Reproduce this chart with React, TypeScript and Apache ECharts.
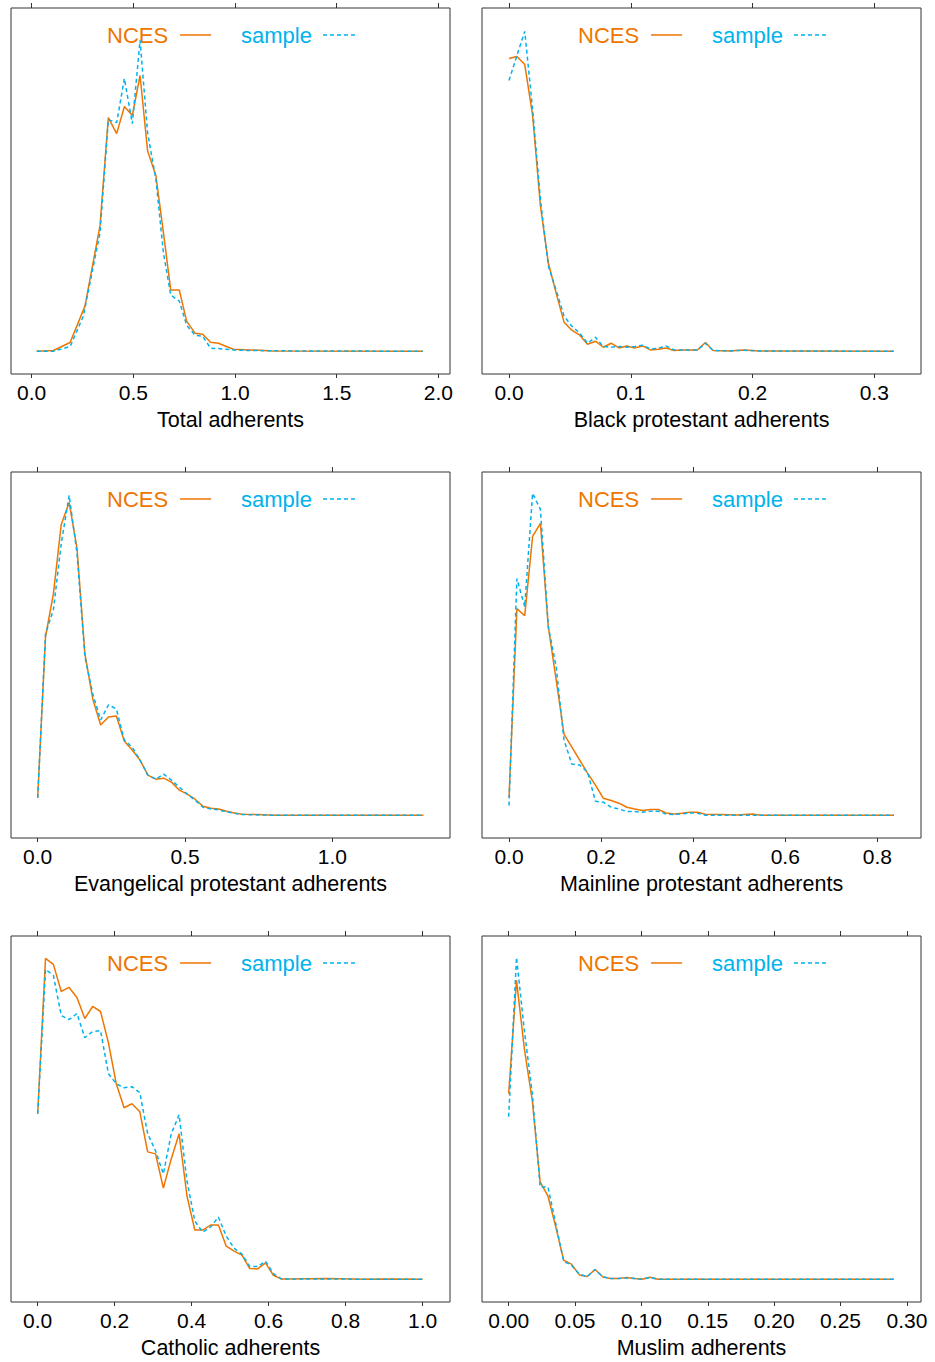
import React, { useEffect, useRef } from "react";
import * as echarts from "echarts";

const ORANGE = "#EE7600";
const CYAN = "#00B2EE";
const FONT = '"Liberation Sans", Arial, Helvetica, sans-serif';
const BOX = "#333333";

type Pt = [number, number];

// ---- Total adherents ----
const totalTicks = [0, 0.5, 1.0, 1.5, 2.0];
const totalNces: Pt[] = [
  [0.025, 0], [0.107, 0.007], [0.189, 0.087], [0.262, 0.45], [0.336, 1.25], [0.377, 2.33],
  [0.418, 2.17], [0.456, 2.44], [0.495, 2.35], [0.533, 2.75], [0.57, 2.0], [0.611, 1.75],
  [0.648, 1.18], [0.684, 0.61], [0.726, 0.61], [0.762, 0.3], [0.803, 0.18], [0.841, 0.17],
  [0.88, 0.09], [0.918, 0.08], [0.992, 0.02], [1.074, 0.013], [1.189, 0.003], [1.923, 0],
];
const totalSample: Pt[] = [
  [0.025, 0], [0.107, 0], [0.189, 0.047], [0.254, 0.35], [0.336, 1.18], [0.377, 2.31],
  [0.418, 2.28], [0.456, 2.72], [0.495, 2.27], [0.533, 3.1], [0.57, 2.18], [0.611, 1.71],
  [0.648, 0.98], [0.684, 0.56], [0.726, 0.5], [0.762, 0.26], [0.803, 0.16], [0.841, 0.15],
  [0.88, 0.03], [0.918, 0.027], [0.992, 0.013], [1.074, 0.007], [1.303, 0.003], [1.923, 0],
];

// ---- Black protestant adherents ----
const blackTicks = [0, 0.1, 0.2, 0.3];
const blackNces: Pt[] = [
  [0, 2.92], [0.0065, 2.94], [0.0129, 2.86], [0.0194, 2.35], [0.0258, 1.45], [0.0323, 0.88],
  [0.0387, 0.58], [0.0452, 0.29], [0.0516, 0.21], [0.0581, 0.16], [0.0645, 0.07], [0.071, 0.1],
  [0.0774, 0.04], [0.0839, 0.08], [0.0903, 0.033], [0.0968, 0.053], [0.1032, 0.033], [0.1097, 0.053],
  [0.1161, 0.013], [0.1226, 0.02], [0.129, 0.033], [0.1355, 0.007], [0.1419, 0.013], [0.1484, 0.013],
  [0.1548, 0.013], [0.1613, 0.087], [0.1677, 0.007], [0.181, 0.003], [0.193, 0.013], [0.206, 0.003],
  [0.316, 0],
];
const blackSample: Pt[] = [
  [0, 2.7], [0.0065, 2.95], [0.0129, 3.19], [0.0194, 2.41], [0.0258, 1.51], [0.0323, 0.85],
  [0.0387, 0.61], [0.0452, 0.35], [0.0516, 0.25], [0.0581, 0.18], [0.0645, 0.08], [0.071, 0.14],
  [0.0774, 0.047], [0.0839, 0.04], [0.0903, 0.047], [0.0968, 0.04], [0.1032, 0.047], [0.1097, 0.06],
  [0.1161, 0.023], [0.1226, 0.03], [0.129, 0.053], [0.1355, 0.013], [0.1419, 0.013], [0.1484, 0.013],
  [0.1548, 0.013], [0.1613, 0.08], [0.1677, 0.007], [0.181, 0.003], [0.193, 0.01], [0.206, 0.003],
  [0.316, 0],
];

// ---- Evangelical protestant adherents ----
const evangTicks = [0, 0.5, 1.0];
const evangNces: Pt[] = [
  [0, 0.173], [0.0267, 1.78], [0.0534, 2.21], [0.0801, 2.9], [0.1069, 3.12], [0.1336, 2.66],
  [0.1603, 1.61], [0.187, 1.16], [0.2137, 0.9], [0.2404, 0.98], [0.2671, 0.99], [0.2938, 0.74],
  [0.3206, 0.65], [0.3473, 0.55], [0.374, 0.4], [0.4007, 0.36], [0.4274, 0.37], [0.4541, 0.33],
  [0.4808, 0.25], [0.5076, 0.21], [0.5343, 0.16], [0.561, 0.09], [0.5877, 0.07], [0.6144, 0.063],
  [0.6411, 0.04], [0.6678, 0.023], [0.6945, 0.01], [0.748, 0.007], [0.801, 0], [1.309, 0],
];
const evangSample: Pt[] = [
  [0, 0.173], [0.0267, 1.81], [0.0534, 2.05], [0.0801, 2.71], [0.1069, 3.19], [0.1336, 2.61],
  [0.1603, 1.58], [0.187, 1.21], [0.2137, 0.95], [0.2404, 1.1], [0.2671, 1.06], [0.2938, 0.75],
  [0.3206, 0.68], [0.3473, 0.55], [0.374, 0.4], [0.4007, 0.36], [0.4274, 0.41], [0.4541, 0.35],
  [0.4808, 0.28], [0.5076, 0.21], [0.5343, 0.15], [0.561, 0.08], [0.5877, 0.063], [0.6144, 0.053],
  [0.6411, 0.033], [0.6678, 0.02], [0.6945, 0.007], [0.748, 0.003], [0.801, 0], [1.309, 0],
];

// ---- Mainline protestant adherents ----
const mainTicks = [0, 0.2, 0.4, 0.6, 0.8];
const mainNces: Pt[] = [
  [0, 0.18], [0.0171, 2.06], [0.0341, 1.99], [0.0512, 2.78], [0.0682, 2.91], [0.0853, 1.88],
  [0.1024, 1.35], [0.1194, 0.81], [0.1365, 0.68], [0.1535, 0.55], [0.1706, 0.42], [0.1877, 0.3],
  [0.2047, 0.17], [0.2218, 0.147], [0.2388, 0.12], [0.2559, 0.08], [0.273, 0.063], [0.29, 0.047],
  [0.3071, 0.057], [0.3241, 0.057], [0.3412, 0.023], [0.3583, 0.013], [0.3753, 0.02], [0.3924, 0.03],
  [0.4094, 0.03], [0.4265, 0.01], [0.4606, 0.007], [0.4947, 0.003], [0.5288, 0.013], [0.5459, 0],
  [0.836, 0],
];
const mainSample: Pt[] = [
  [0, 0.097], [0.0171, 2.36], [0.0341, 2.08], [0.0512, 3.21], [0.0682, 3.05], [0.0853, 1.88],
  [0.1024, 1.48], [0.1194, 0.75], [0.1365, 0.51], [0.1535, 0.5], [0.1706, 0.43], [0.1877, 0.14],
  [0.2047, 0.13], [0.2218, 0.08], [0.2388, 0.063], [0.2559, 0.037], [0.273, 0.037], [0.29, 0.03],
  [0.3071, 0.04], [0.3241, 0.04], [0.3412, 0.013], [0.3583, 0.007], [0.3753, 0.013], [0.3924, 0.023],
  [0.4094, 0.02], [0.4265, 0], [0.836, 0],
];

// ---- Catholic adherents ----
const cathTicks = [0, 0.2, 0.4, 0.6, 0.8, 1.0];
const cathNces: Pt[] = [
  [0, 1.65], [0.0204, 3.2], [0.0408, 3.14], [0.0612, 2.87], [0.0816, 2.91], [0.102, 2.81],
  [0.1224, 2.6], [0.1429, 2.72], [0.1633, 2.67], [0.1837, 2.36], [0.2041, 1.95], [0.2245, 1.71],
  [0.2449, 1.75], [0.2653, 1.67], [0.2857, 1.27], [0.3061, 1.25], [0.3265, 0.91], [0.3469, 1.2],
  [0.3673, 1.45], [0.3878, 0.83], [0.4082, 0.49], [0.4286, 0.49], [0.449, 0.54], [0.4694, 0.54],
  [0.4898, 0.33], [0.5102, 0.28], [0.5306, 0.24], [0.551, 0.107], [0.5714, 0.103], [0.5918, 0.163],
  [0.6122, 0.04], [0.6327, 0.003], [0.6531, 0.003], [0.7, 0.005], [0.75, 0.007], [0.85, 0],
  [0.9, 0.003], [1.0, 0],
];
const cathSample: Pt[] = [
  [0, 1.65], [0.0204, 3.09], [0.0408, 3.03], [0.0612, 2.63], [0.0816, 2.59], [0.102, 2.65],
  [0.1224, 2.41], [0.1429, 2.47], [0.1633, 2.48], [0.1837, 2.05], [0.2041, 1.95], [0.2245, 1.91],
  [0.2449, 1.92], [0.2653, 1.86], [0.2857, 1.45], [0.3061, 1.28], [0.3265, 1.05], [0.3469, 1.45],
  [0.3673, 1.64], [0.3878, 0.98], [0.4082, 0.58], [0.4286, 0.47], [0.449, 0.52], [0.4694, 0.62],
  [0.4898, 0.43], [0.5102, 0.31], [0.5306, 0.25], [0.551, 0.127], [0.5714, 0.127], [0.5918, 0.18],
  [0.6122, 0.057], [0.6327, 0.003], [0.6531, 0.003], [0.75, 0.003], [0.85, 0], [1.0, 0],
];

// ---- Muslim adherents ----
const muslimTicks = [0, 0.05, 0.1, 0.15, 0.2, 0.25, 0.3];
const muslimNces: Pt[] = [
  [0, 1.85], [0.0059, 2.98], [0.0118, 2.3], [0.0178, 1.78], [0.0237, 0.97], [0.0296, 0.83],
  [0.0355, 0.52], [0.0414, 0.19], [0.0473, 0.15], [0.0533, 0.043], [0.0592, 0.027], [0.0651, 0.097],
  [0.071, 0.023], [0.0769, 0.007], [0.0829, 0.007], [0.0888, 0.017], [0.0947, 0.007], [0.1006, 0],
  [0.1065, 0.02], [0.1124, 0], [0.29, 0],
];
const muslimSample: Pt[] = [
  [0, 1.62], [0.0059, 3.21], [0.0118, 2.48], [0.0178, 1.85], [0.0237, 0.92], [0.0296, 0.92],
  [0.0355, 0.55], [0.0414, 0.18], [0.0473, 0.14], [0.0533, 0.05], [0.0592, 0.027], [0.0651, 0.097],
  [0.071, 0.023], [0.0769, 0.007], [0.0829, 0.007], [0.0888, 0.013], [0.0947, 0.007], [0.1006, 0],
  [0.1065, 0.017], [0.1124, 0], [0.29, 0],
];

const panels = [
  { title: "Total adherents", nces: totalNces, sample: totalSample, ticks: totalTicks, dec: 1, xMin: -0.1016, xMax: 2.057 },
  { title: "Black protestant adherents", nces: blackNces, sample: blackSample, ticks: blackTicks, dec: 1, xMin: -0.0222, xMax: 0.3384 },
  { title: "Evangelical protestant adherents", nces: evangNces, sample: evangSample, ticks: evangTicks, dec: 1, xMin: -0.0905, xMax: 1.3993 },
  { title: "Mainline protestant adherents", nces: mainNces, sample: mainSample, ticks: mainTicks, dec: 1, xMin: -0.0587, xMax: 0.8949 },
  { title: "Catholic adherents", nces: cathNces, sample: cathSample, ticks: cathTicks, dec: 1, xMin: -0.0693, xMax: 1.071 },
  { title: "Muslim adherents", nces: muslimNces, sample: muslimSample, ticks: muslimTicks, dec: 2, xMin: -0.0201, xMax: 0.3106 },
];

const GRID_LEFT = [11, 482];
const GRID_TOP = [8, 472, 936];
const GRID_W = 439;
const GRID_H = 366;
const Y_MIN = -0.227;
const Y_MAX = 3.423;

function buildOption() {
  const grid: any[] = [];
  const xAxis: any[] = [];
  const yAxis: any[] = [];
  const series: any[] = [];
  const graphic: any[] = [];

  panels.forEach((p, i) => {
    const left = GRID_LEFT[i % 2];
    const top = GRID_TOP[Math.floor(i / 2)];
    grid.push({
      left, top, width: GRID_W, height: GRID_H,
      show: true, borderColor: BOX, borderWidth: 1, backgroundColor: "transparent",
      containLabel: false, outerBoundsMode: "none",
    });
    xAxis.push({
      type: "value", gridIndex: i, position: "bottom", min: p.xMin, max: p.xMax,
      name: p.title, nameLocation: "middle", nameGap: 35, nameMoveOverlap: false,
      nameTextStyle: { fontFamily: FONT, fontSize: 21.5, color: "#000" },
      axisLine: { show: false, onZero: false },
      axisTick: { show: true, inside: false, length: 4, customValues: p.ticks, lineStyle: { color: BOX, width: 1 } },
      axisLabel: {
        show: true, margin: 8, customValues: p.ticks,
        formatter: (v: number) => Number(v).toFixed(p.dec),
        fontFamily: FONT, fontSize: 21, color: "#000",
      },
      splitLine: { show: false },
    });
    xAxis.push({
      type: "value", gridIndex: i, position: "top", min: p.xMin, max: p.xMax,
      axisLine: { show: false, onZero: false },
      axisTick: { show: true, inside: false, length: 5, customValues: p.ticks, lineStyle: { color: BOX, width: 1 } },
      axisLabel: { show: false },
      splitLine: { show: false },
    });
    yAxis.push({
      type: "value", gridIndex: i, min: Y_MIN, max: Y_MAX,
      axisLine: { show: false, onZero: false }, axisTick: { show: false }, axisLabel: { show: false }, splitLine: { show: false },
    });
    series.push({
      type: "line", name: "NCES", xAxisIndex: 2 * i, yAxisIndex: i, data: p.nces,
      showSymbol: false, symbol: "none", silent: true,
      lineStyle: { color: ORANGE, width: 1.5 },
    });
    series.push({
      type: "line", name: "sample", xAxisIndex: 2 * i, yAxisIndex: i, data: p.sample,
      showSymbol: false, symbol: "none", silent: true,
      lineStyle: { color: CYAN, width: 1.5, type: [4, 3] },
    });

    const ly = top + 27;
    graphic.push({
      type: "text", x: left + 96, y: ly, silent: true,
      style: { text: "NCES", fill: ORANGE, fontFamily: FONT, fontSize: 22, verticalAlign: "middle", align: "left" },
    });
    graphic.push({
      type: "line", silent: true,
      shape: { x1: left + 169, y1: ly, x2: left + 200, y2: ly },
      style: { stroke: ORANGE, lineWidth: 1.5 },
    });
    graphic.push({
      type: "text", x: left + 230, y: ly, silent: true,
      style: { text: "sample", fill: CYAN, fontFamily: FONT, fontSize: 22, verticalAlign: "middle", align: "left" },
    });
    graphic.push({
      type: "line", silent: true,
      shape: { x1: left + 312, y1: ly, x2: left + 344, y2: ly },
      style: { stroke: CYAN, lineWidth: 1.5, lineDash: [4, 3] },
    });
  });

  return {
    animation: false,
    backgroundColor: "#ffffff",
    grid, xAxis, yAxis, series, graphic,
  };
}

export default function App() {
  const ref = useRef<HTMLDivElement>(null);
  useEffect(() => {
    if (!ref.current) return;
    const chart = echarts.init(ref.current, undefined, { renderer: "svg" });
    chart.setOption(buildOption() as any);
    return () => chart.dispose();
  }, []);
  return (
    <div
      ref={ref}
      style={{ position: "absolute", left: 0, top: 0, width: 935, height: 1362, background: "#fff" }}
    />
  );
}
